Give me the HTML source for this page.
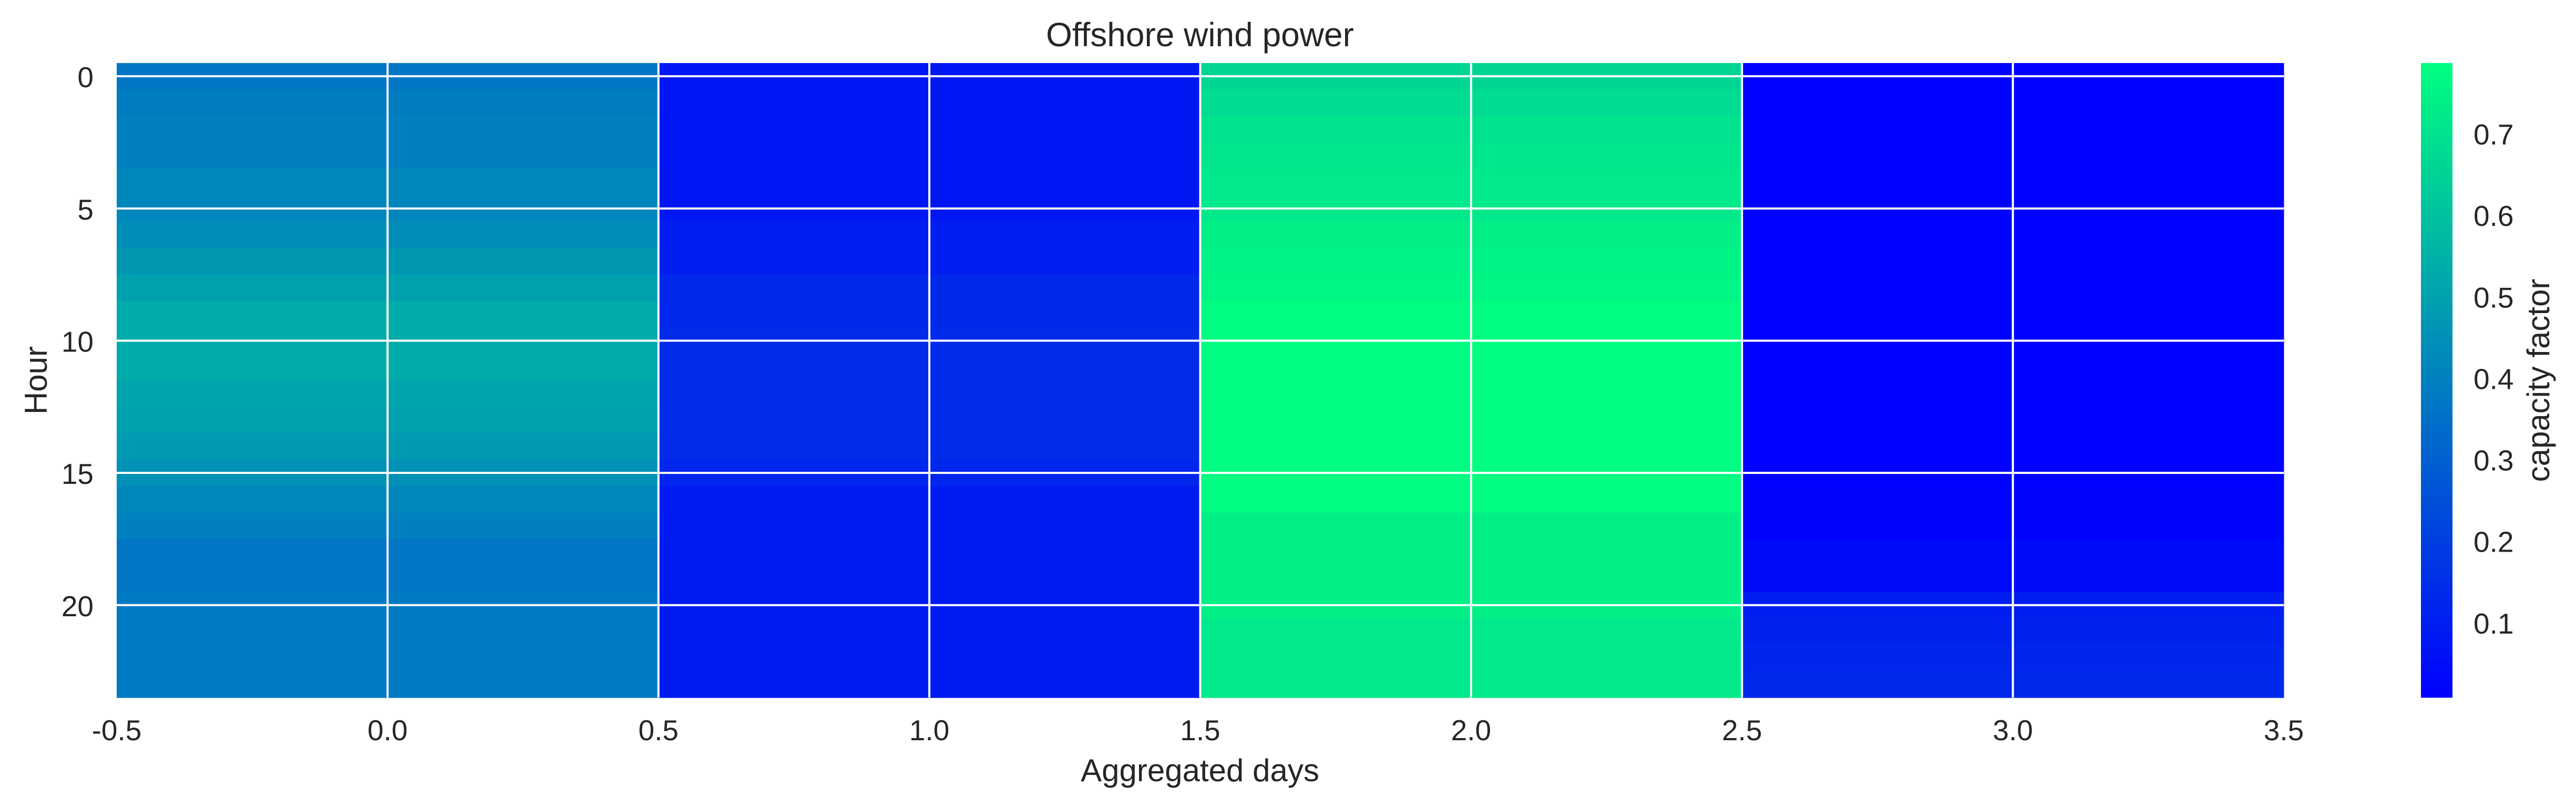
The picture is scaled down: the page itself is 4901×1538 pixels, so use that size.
<!DOCTYPE html>
<html><head><meta charset="utf-8">
<style>
html,body{margin:0;padding:0;background:#fff;}
svg{display:block;font-family:"Liberation Sans",Arial,sans-serif;}
</style></head>
<body>
<svg id="chart" width="4901" height="1538" viewBox="0 0 4901 1538" xmlns="http://www.w3.org/2000/svg">
<text x="2283" y="88" font-size="64" text-anchor="middle" fill="#262626">Offshore wind power</text>
<text x="2283" y="1487" font-size="60" text-anchor="middle" fill="#262626">Aggregated days</text>
<text x="0" y="0" font-size="60" text-anchor="middle" fill="#262626" transform="translate(89,724) rotate(-90)">Hour</text>
<text x="0" y="0" font-size="60" text-anchor="middle" fill="#262626" transform="translate(4850,724) rotate(-90)">capacity factor</text>
<g id="cells"></g>
<g id="grid"></g>
<g id="xticks"></g>
<g id="yticks"></g>
<defs><linearGradient id="cbgrad" x1="0" y1="1" x2="0" y2="0"><stop offset="0" stop-color="rgb(0,0,255)"/><stop offset="1" stop-color="rgb(0,255,128)"/></linearGradient></defs>
<rect x="4606" y="120" width="60" height="1208" fill="url(#cbgrad)"/>
<g id="cbticks"></g>
</svg>
<script>
const days = [0, 1, 2, 3];
const hours = Array.from({length: 24}, (_, i) => i);
const day0 = [0.37,0.39,0.40,0.40,0.42,0.42,0.44,0.47,0.50,0.53,0.53,0.53,0.51,0.50,0.48,0.45,0.42,0.40,0.37,0.37,0.38,0.38,0.38,0.38];
const day1 = [0.08,0.08,0.08,0.08,0.08,0.08,0.10,0.10,0.13,0.13,0.14,0.14,0.14,0.14,0.14,0.12,0.09,0.09,0.09,0.09,0.09,0.09,0.09,0.09];
const day2 = [0.66,0.68,0.70,0.71,0.72,0.72,0.74,0.75,0.76,0.78,0.78,0.78,0.78,0.78,0.78,0.78,0.78,0.74,0.74,0.74,0.74,0.72,0.72,0.72];
const day3 = [0.01,0.01,0.01,0.01,0.01,0.01,0.01,0.01,0.01,0.01,0.01,0.01,0.01,0.01,0.01,0.01,0.02,0.02,0.04,0.04,0.10,0.11,0.12,0.13];
const series = [day0, day1, day2, day3];
const xTicks = [-0.5, 0.0, 0.5, 1.0, 1.5, 2.0, 2.5, 3.0, 3.5];
const yTicks = [0, 5, 10, 15, 20];
const cbTicks = [0.1, 0.2, 0.3, 0.4, 0.5, 0.6, 0.7];
const vmin = 0.0084, vmax = 0.787;

const L = 222, R = 4345, T = 120, B = 1328;
const xs = v => L + (v + 0.5) / 4 * (R - L);
const ys = v => T + (v + 0.5) / 24 * (B - T);
const cs = v => B - (v - vmin) / (vmax - vmin) * (B - T);
function color(v){
  let t = Math.max(0, Math.min(1, (v - vmin) / (vmax - vmin)));
  return `rgb(0,${Math.round(255*t)},${Math.round(255*(1-0.5*t))})`;
}
const NS = 'http://www.w3.org/2000/svg';
const cells = document.getElementById('cells');
series.forEach((arr, d) => {
  arr.forEach((v, h) => {
    const r = document.createElementNS(NS, 'rect');
    r.setAttribute('x', xs(days[d] - 0.5));
    r.setAttribute('y', ys(hours[h] - 0.5));
    r.setAttribute('width', xs(days[d] + 0.5) - xs(days[d] - 0.5) + 0.5);
    r.setAttribute('height', ys(hours[h] + 0.5) - ys(hours[h] - 0.5) + 0.5);
    r.setAttribute('fill', color(v));
    
    
    cells.appendChild(r);
  });
});
const grid = document.getElementById('grid');
xTicks.slice(1, -1).forEach(v => {
  const l = document.createElementNS(NS, 'line');
  l.setAttribute('x1', xs(v)); l.setAttribute('x2', xs(v));
  l.setAttribute('y1', T); l.setAttribute('y2', B);
  l.setAttribute('stroke', '#fff'); l.setAttribute('stroke-width', '4');
  
  
  grid.appendChild(l);
});
yTicks.forEach(v => {
  const l = document.createElementNS(NS, 'line');
  l.setAttribute('x1', L); l.setAttribute('x2', R);
  l.setAttribute('y1', ys(v)); l.setAttribute('y2', ys(v));
  l.setAttribute('stroke', '#fff'); l.setAttribute('stroke-width', '4');
  
  
  grid.appendChild(l);
});
const xg = document.getElementById('xticks');
xTicks.forEach(v => {
  const t = document.createElementNS(NS, 'text');
  t.setAttribute('x', xs(v)); t.setAttribute('y', 1409);
  t.setAttribute('font-size', '55'); t.setAttribute('text-anchor', 'middle'); t.setAttribute('fill', '#262626');
  t.textContent = v.toFixed(1);
  
  
  xg.appendChild(t);
});
const yg = document.getElementById('yticks');
yTicks.forEach(v => {
  const t = document.createElementNS(NS, 'text');
  t.setAttribute('x', 178); t.setAttribute('y', ys(v) + 21);
  t.setAttribute('font-size', '55'); t.setAttribute('text-anchor', 'end'); t.setAttribute('fill', '#262626');
  t.textContent = String(v);
  
  
  yg.appendChild(t);
});
const cg = document.getElementById('cbticks');
cbTicks.forEach(v => {
  const t = document.createElementNS(NS, 'text');
  t.setAttribute('x', 4706); t.setAttribute('y', cs(v) + 20);
  t.setAttribute('font-size', '55'); t.setAttribute('fill', '#262626');
  t.textContent = v.toFixed(1);
  
  
  cg.appendChild(t);
});
</script>
</body></html>
